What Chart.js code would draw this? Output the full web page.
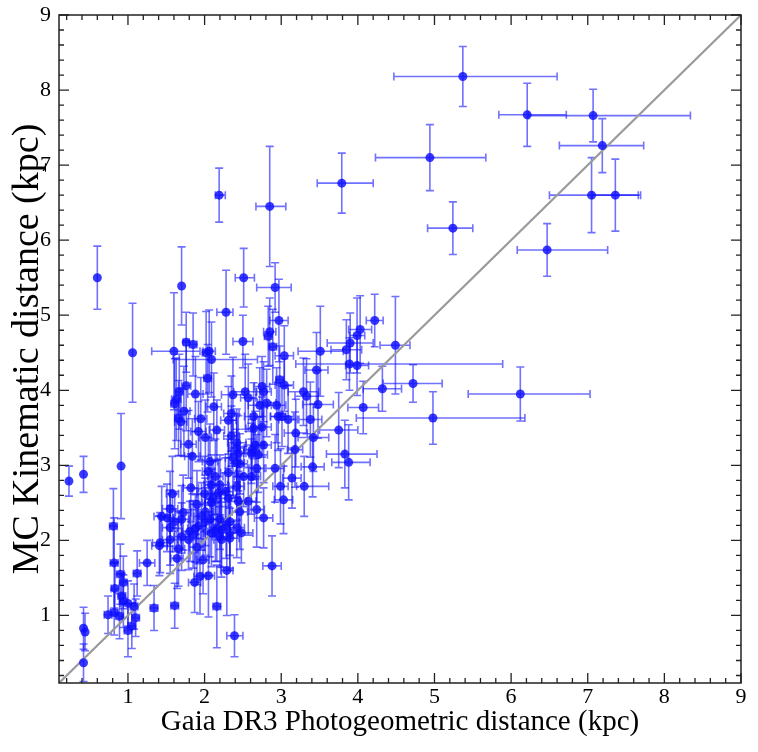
<!DOCTYPE html>
<html><head><meta charset="utf-8">
<script src="https://cdn.jsdelivr.net/npm/chart.js@4.4.1/dist/chart.umd.min.js"></script>
<style>html,body{margin:0;padding:0;background:#fff}#wrap{width:758px;height:752px}</style>
</head><body><div id="wrap"><canvas id="c" width="758" height="752"></canvas></div>
<script>
// Gaia DR3 photogeometric distance (kpc)
const xVals = [
5.37,6.21,7.07,7.19,4.94,7.05,7.36,5.24,6.47,3.79,2.19,2.85,0.60,1.70,2.51,2.92,2.28,1.06,6.12,4.98,4.72,4.49,4.22,0.23,0.42,0.91,0.81,2.88,2.39,0.42,0.44,0.42,
1.60,1.76,1.85,2.02,2.06,2.09,2.04,1.76,2.50,2.97,2.85,2.83,2.89,3.04,2.98,3.04,4.03,3.99,3.90,3.85,3.51,3.89,3.99,3.46,4.32,4.07,2.75,1.67,
1.61,1.66,1.69,1.92,2.01,2.16,1.79,1.84,2.07,2.37,2.31,2.35,2.35,2.42,2.44,2.46,2.42,2.37,2.53,2.64,2.72,2.81,2.77,2.94,2.96,2.75,2.77,2.66,2.61,2.70,3.19,3.18,2.64,2.57,3.29,3.33,3.48,3.01,3.09,3.38,3.42,3.75,3.83,3.88,3.41,2.42,2.62,
2.05,2.14,2.09,2.18,2.31,2.09,1.90,1.55,1.44,1.51,1.72,1.70,1.61,1.55,1.81,1.96,2.07,2.20,2.16,1.92,1.85,2.20,2.33,2.48,2.33,1.42,1.55,2.51,2.42,2.61,2.68,2.92,2.99,3.14,3.03,2.68,2.77,2.57,2.46,2.27,2.20,2.11,2.01,2.33,2.22,2.01,3.30,2.31,2.44,1.88,2.14,2.22,1.70,1.79,2.28,2.42,2.09,
0.74,0.82,0.89,0.82,0.83,0.90,0.94,0.92,0.94,1.00,1.08,1.10,1.05,1.00,1.12,1.25,1.34,1.61,1.41,1.66,1.64,1.87,1.94,2.05,1.98,1.90,2.16,2.29,
1.63,1.73,1.88,1.95,2.12,1.58,1.82,2.00
];
// MC kinematic distance (kpc)
const yVals = [
8.18,7.67,7.66,7.26,7.10,6.60,6.60,6.16,5.87,6.76,6.60,6.45,5.50,5.39,5.50,5.37,5.04,4.50,3.95,3.63,4.09,4.60,4.93,2.79,2.88,2.99,2.19,1.66,0.73,0.83,0.78,0.37,
4.52,4.64,4.61,4.50,4.52,4.41,4.16,4.06,4.65,4.93,4.78,4.72,4.58,4.46,4.14,4.07,4.81,4.73,4.63,4.54,4.52,4.35,4.33,4.27,4.02,3.77,4.05,3.98,
3.82,3.63,3.58,3.45,3.37,3.47,3.28,3.12,3.05,3.94,3.60,3.69,3.39,3.30,3.16,3.02,3.23,3.10,3.98,3.65,3.80,3.83,3.98,3.80,3.65,3.51,3.27,3.27,3.16,3.14,3.43,3.21,3.49,3.90,3.98,3.92,3.81,3.65,3.61,3.61,3.37,3.47,3.15,3.04,2.98,3.03,3.21,
2.92,2.85,2.74,2.63,2.56,2.50,2.48,2.42,2.32,2.30,2.37,2.28,2.25,2.17,2.12,2.32,2.28,2.28,2.17,2.19,2.08,2.05,2.25,2.10,2.10,1.97,2.01,2.85,2.72,2.85,2.96,2.96,2.72,2.83,2.54,2.41,2.30,2.52,2.38,2.65,2.74,2.56,2.38,2.03,2.01,2.25,2.72,2.90,2.52,2.16,2.12,2.14,2.05,2.01,2.21,2.17,2.10,
1.01,1.04,0.99,1.70,1.36,1.55,1.44,1.26,1.19,1.16,1.12,0.97,0.86,0.80,1.56,1.70,1.10,1.13,1.93,1.89,1.76,1.44,1.52,1.53,1.74,1.91,1.12,1.60,
3.88,3.72,3.95,3.62,3.78,2.62,2.70,2.62
];
// lower / upper x uncertainty (kpc)
const xErrLow = [
0.90,0.37,0.84,0.56,0.71,0.55,0.30,0.33,0.39,0.32,0.05,0.18,0,0,0.11,0.24,0.12,0,0.68,1.00,0.39,0.20,0.11,0,0,0,0.05,0.12,0.10,0,0,0,
0.29,0.04,0.05,0.05,0.08,0.50,0.05,0.06,0.13,0.12,0.08,0.05,0.05,0.12,0.05,0.12,0.15,0.10,0.30,0.20,0.29,0.70,0.15,0.15,0.25,0.20,0.10,0.05,
0.05,0.05,0.08,0.10,0.08,0.10,0.10,0.10,0.10,0.15,0.10,0.10,0.10,0.12,0.10,0.10,0.10,0.10,0.15,0.12,0.15,0.12,0.10,0.12,0.10,0.12,0.10,0.12,0.10,0.12,0.15,0.10,0.10,0.10,0.20,0.15,0.20,0.15,0.12,0.15,0.20,0.25,0.24,0.22,0.15,0.10,0.10,
0.08,0.10,0.10,0.10,0.10,0.12,0.10,0.10,0.10,0.08,0.10,0.10,0.08,0.10,0.10,0.10,0.10,0.12,0.10,0.10,0.10,0.10,0.12,0.15,0.10,0.10,0.10,0.12,0.10,0.12,0.10,0.12,0.10,0.12,0.12,0.10,0.12,0.10,0.10,0.10,0.10,0.10,0.10,0.12,0.10,0.10,0.10,0.10,0.10,0.10,0.10,0.10,0.10,0.10,0.10,0.10,0.10,
0.05,0.05,0.05,0.05,0.05,0.05,0.05,0.05,0.05,0.10,0.05,0.05,0.05,0.05,0.05,0.10,0.05,0.05,0.10,0.08,0.08,0.08,0.08,0.08,0.08,0.10,0.05,0.08,
0.06,0.08,0.10,0.08,0.10,0.08,0.10,0.10
];
const xErrHigh = [
1.23,0.51,1.27,0.54,0.73,0.61,0.33,0.26,0.79,0.41,0.08,0.21,0,0,0.14,0.21,0.09,0,0.91,1.20,0.38,0.19,0.11,0,0,0,0.05,0.12,0.11,0,0,0,
0.34,0.04,0.05,0.05,0.08,0.60,0.05,0.06,0.13,0.12,0.08,0.05,0.05,0.12,0.05,0.12,0.15,0.10,0.30,0.20,0.30,2.00,0.15,0.15,0.25,0.20,0.10,0.05,
0.05,0.05,0.08,0.10,0.08,0.10,0.10,0.10,0.10,0.15,0.10,0.10,0.10,0.12,0.10,0.10,0.10,0.10,0.15,0.12,0.15,0.12,0.10,0.12,0.10,0.12,0.10,0.12,0.10,0.12,0.15,0.10,0.10,0.10,0.20,0.15,0.20,0.15,0.12,0.15,0.20,0.25,0.42,0.28,0.15,0.10,0.10,
0.08,0.10,0.10,0.10,0.10,0.12,0.10,0.10,0.10,0.08,0.10,0.10,0.08,0.10,0.10,0.10,0.10,0.12,0.10,0.10,0.10,0.10,0.12,0.15,0.10,0.10,0.10,0.12,0.10,0.12,0.10,0.12,0.10,0.12,0.12,0.10,0.12,0.10,0.10,0.10,0.10,0.10,0.10,0.12,0.10,0.10,0.32,0.10,0.10,0.10,0.10,0.10,0.10,0.10,0.10,0.10,0.10,
0.05,0.05,0.05,0.05,0.05,0.05,0.05,0.05,0.05,0.10,0.05,0.05,0.05,0.05,0.05,0.10,0.05,0.05,0.10,0.08,0.08,0.08,0.08,0.08,0.08,0.10,0.05,0.08,
0.06,0.08,0.10,0.08,0.10,0.08,0.10,0.10
];
// symmetric y uncertainty (kpc)
const yErrs = [
0.40,0.42,0.35,0.36,0.44,0.50,0.48,0.35,0.35,0.40,0.36,0.80,0.42,0.52,0.39,0.33,0.56,0.66,0.36,0.35,0.25,0.65,0.35,0.20,0.24,0.70,0.50,0.40,0.28,0.28,0.25,0.25,
0.78,0.40,0.42,0.55,0.55,0.50,0.45,0.60,0.35,0.55,0.45,0.40,0.50,0.40,0.45,0.35,0.45,0.50,0.40,0.40,0.60,0.35,0.40,0.50,0.30,0.35,0.40,0.50,
0.60,0.50,0.45,0.40,0.50,0.40,0.45,0.50,0.50,0.50,0.45,0.50,0.40,0.45,0.50,0.40,0.45,0.50,0.50,0.45,0.50,0.45,0.40,0.50,0.45,0.40,0.50,0.45,0.40,0.50,0.45,0.50,0.40,0.45,0.45,0.50,0.45,0.40,0.45,0.50,0.45,0.50,0.45,0.50,0.40,0.45,0.40,
0.45,0.50,0.40,0.45,0.40,0.45,0.45,0.50,0.40,0.45,0.50,0.45,0.40,0.50,0.40,0.45,0.50,0.40,0.45,0.50,0.45,0.40,0.45,0.40,0.50,0.40,0.45,0.40,0.45,0.50,0.45,0.45,0.50,0.40,0.45,0.50,0.40,0.45,0.50,0.45,0.40,0.50,0.45,0.40,0.50,0.45,0.40,0.45,0.40,0.45,0.40,0.50,0.45,0.40,0.45,0.40,0.45,
0.25,0.30,0.30,0.60,0.35,0.40,0.35,0.30,0.35,0.30,0.30,0.25,0.30,0.35,0.30,0.30,0.30,0.30,0.40,0.50,0.40,0.40,0.50,0.55,0.45,0.50,0.55,0.60,
0.55,0.60,0.50,0.55,0.45,0.50,0.45,0.50
];
const tickValues = [1,2,3,4,5,6,7,8,9];
const oneToOne = [0.1, 9];
const xTitle = 'Gaia DR3 Photogeometric distance (kpc)';
const yTitle = 'MC Kinematic distance (kpc)';

const points = xVals.map((x,i)=>({x:x, y:yVals[i], xl:xErrLow[i], xh:xErrHigh[i], ye:yErrs[i]}));
const FONT = "'Liberation Serif', 'Times New Roman', serif";

const errorBars = {
  id:'errorBars',
  beforeDatasetsDraw(chart){
    const ctx = chart.ctx, xs = chart.scales.x, ys = chart.scales.y, a = chart.chartArea;
    ctx.save();
    ctx.beginPath(); ctx.rect(a.left, a.top, a.right-a.left, a.bottom-a.top); ctx.clip();
    ctx.strokeStyle = 'rgba(10,10,255,0.58)';
    ctx.lineWidth = 1.6;
    const cap = 4;
    points.forEach(p=>{
      const px = xs.getPixelForValue(p.x), py = ys.getPixelForValue(p.y);
      ctx.beginPath();
      if (p.ye > 0){
        const y1 = ys.getPixelForValue(p.y + p.ye), y2 = ys.getPixelForValue(p.y - p.ye);
        ctx.moveTo(px, y1); ctx.lineTo(px, y2);
        ctx.moveTo(px-cap, y1); ctx.lineTo(px+cap, y1);
        ctx.moveTo(px-cap, y2); ctx.lineTo(px+cap, y2);
      }
      if (p.xl > 0 || p.xh > 0){
        const x1 = xs.getPixelForValue(p.x - p.xl), x2 = xs.getPixelForValue(p.x + p.xh);
        ctx.moveTo(x1, py); ctx.lineTo(x2, py);
        ctx.moveTo(x1, py-cap); ctx.lineTo(x1, py+cap);
        ctx.moveTo(x2, py-cap); ctx.lineTo(x2, py+cap);
      }
      ctx.stroke();
    });
    ctx.restore();
  },
  afterDraw(chart){
    const ctx = chart.ctx, xs = chart.scales.x, ys = chart.scales.y, a = chart.chartArea;
    ctx.save();
    ctx.strokeStyle = '#222';
    ctx.lineWidth = 1.5;
    ctx.strokeRect(a.left, a.top, a.right-a.left, a.bottom-a.top);
    ctx.lineWidth = 1.3;
    ctx.beginPath();
    for (let k=1; k<=45; k++){
      const v = k/5;
      if (v < 0.1 || v > 9) continue;
      const major = (k % 5 === 0);
      const len = major ? 10 : 5;
      const px = xs.getPixelForValue(v), py = ys.getPixelForValue(v);
      ctx.moveTo(px, a.bottom); ctx.lineTo(px, a.bottom-len);
      ctx.moveTo(px, a.top); ctx.lineTo(px, a.top+len);
      ctx.moveTo(a.left, py); ctx.lineTo(a.left+len, py);
      ctx.moveTo(a.right, py); ctx.lineTo(a.right-len, py);
    }
    ctx.stroke();
    ctx.restore();
  }
};

const setTicks = s => { s.ticks = tickValues.map(v=>({value:v})); };

new Chart(document.getElementById('c'), {
  type:'scatter',
  data:{
    datasets:[
      { type:'scatter', data: points, order:0,
        pointRadius:4.5, pointHoverRadius:4.5, pointBorderWidth:0,
        backgroundColor:'rgba(15,15,255,0.82)', borderColor:'rgba(15,15,255,0.82)' },
      { type:'line', data: oneToOne.map(v=>({x:v,y:v})), order:1,
        borderColor:'#9a9a9a', borderWidth:2.2, pointRadius:0, fill:false }
    ]
  },
  options:{
    responsive:false, animation:false, devicePixelRatio:1,
    layout:{ padding:{ top:15, right:17, left:0, bottom:0 } },
    plugins:{ legend:{display:false}, tooltip:{enabled:false} },
    scales:{
      x:{ type:'linear', min:0.1, max:9,
        afterBuildTicks:setTicks,
        afterFit(s){ s.height = 69; s.paddingLeft = 0; s.paddingRight = 0; },
        grid:{ display:false, drawTicks:false }, border:{ display:false },
        ticks:{ color:'#000', padding:1, maxRotation:0, font:{ family:FONT, size:22 } },
        title:{ display:true, text:xTitle, color:'#000', font:{ family:FONT, size:29 }, padding:{top:0,bottom:12} } },
      y:{ type:'linear', min:0.1, max:9,
        afterBuildTicks:setTicks,
        afterFit(s){ s.width = 59; s.paddingTop = 0; s.paddingBottom = 0; },
        grid:{ display:false, drawTicks:false }, border:{ display:false },
        ticks:{ color:'#000', padding:8, font:{ family:FONT, size:22 } },
        title:{ display:true, text:yTitle, color:'#000', font:{ family:FONT, size:38 }, padding:{top:5,bottom:0} } }
    }
  },
  plugins:[errorBars]
});
</script></body></html>
